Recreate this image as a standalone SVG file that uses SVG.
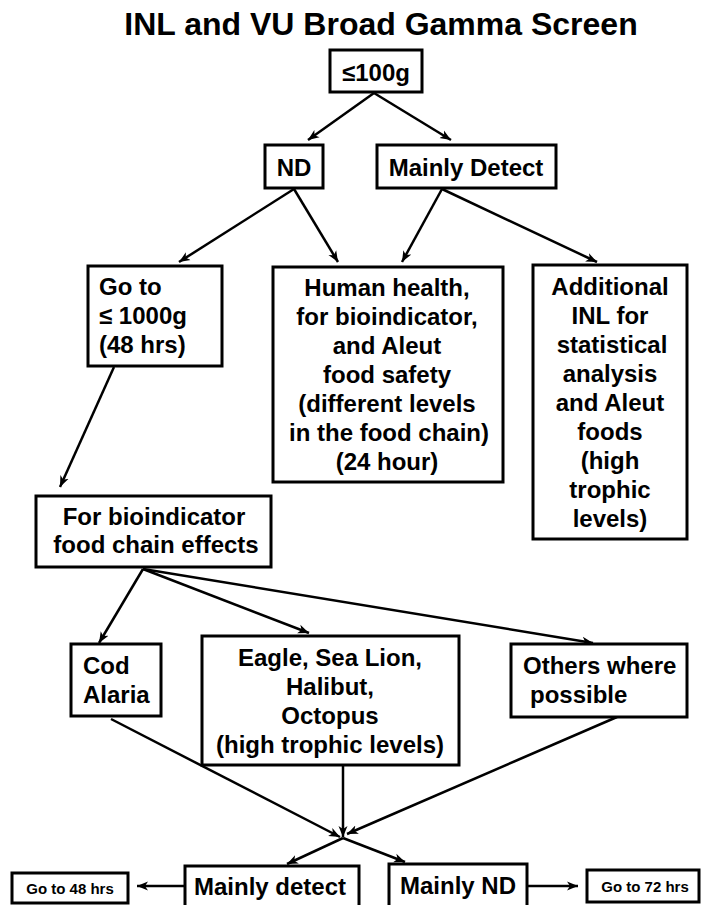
<svg xmlns="http://www.w3.org/2000/svg" width="701" height="905" viewBox="0 0 701 905">
<style>
.box{fill:#fff;stroke:#000;stroke-width:3}
text{font-family:"Liberation Sans",Arial,sans-serif;font-weight:bold;fill:#000}
.t{font-size:24px}
.c{text-anchor:middle}
.s{font-size:15px}
.ln{stroke:#000;stroke-width:2.5;fill:none;marker-end:url(#ah)}
</style>
<defs>
<marker id="ah" markerUnits="userSpaceOnUse" markerWidth="12" markerHeight="10" refX="11" refY="5" orient="auto">
<path d="M0,0.5 L11,5 L0,9.5 L3,5 z" fill="#000"/>
</marker>
</defs>
<rect width="701" height="905" fill="#fff"/>
<text x="381" y="35" class="c" font-size="32">INL and VU Broad Gamma Screen</text>

<g id="connectors">
<line class="ln" x1="374" y1="93" x2="308" y2="140"/>
<line class="ln" x1="374" y1="93" x2="451" y2="140"/>
<line class="ln" x1="294" y1="189" x2="179" y2="262"/>
<line class="ln" x1="294" y1="189" x2="338" y2="262"/>
<line class="ln" x1="442" y1="189" x2="402" y2="262"/>
<line class="ln" x1="442" y1="189" x2="597" y2="262"/>
<line class="ln" x1="114" y1="367" x2="60" y2="487"/>
<line class="ln" x1="143" y1="569" x2="99" y2="643"/>
<line class="ln" x1="143" y1="569" x2="309" y2="633"/>
<line class="ln" x1="143" y1="569" x2="593" y2="643"/>
<line class="ln" x1="111" y1="719" x2="340" y2="837"/>
<line class="ln" x1="343" y1="766" x2="343" y2="837"/>
<line class="ln" x1="617" y1="717" x2="347" y2="834"/>
<line class="ln" x1="343" y1="838" x2="287" y2="864"/>
<line class="ln" x1="343" y1="838" x2="405" y2="862"/>
<line class="ln" x1="185" y1="886" x2="137" y2="886"/>
<line class="ln" x1="527" y1="886" x2="578" y2="886"/>
</g>

<g id="n-start"><rect class="box" x="330" y="50" width="92" height="42"/><text class="t c" x="376" y="81">≤100g</text></g>
<g id="n-nd"><rect class="box" x="265" y="145" width="58" height="43"/><text class="t c" x="294" y="176">ND</text></g>
<g id="n-detect"><rect class="box" x="377" y="145" width="179" height="43"/><text class="t c" x="466" y="176">Mainly Detect</text></g>
<g id="n-goto"><rect class="box" x="88" y="266" width="134" height="100"/>
<text class="t" x="99" y="295">Go to</text><text class="t" x="99" y="324">≤ 1000g</text><text class="t" x="99" y="353">(48 hrs)</text></g>
<g id="n-human"><rect class="box" x="273" y="267" width="230" height="215"/>
<text class="t c" x="387" y="296">Human health,</text>
<text class="t c" x="387" y="325">for bioindicator,</text>
<text class="t c" x="387" y="354">and Aleut</text>
<text class="t c" x="387" y="383">food safety</text>
<text class="t c" x="387" y="412">(different levels</text>
<text class="t c" x="389" y="441">in the food chain)</text>
<text class="t c" x="387" y="470">(24 hour)</text></g>
<g id="n-additional"><rect class="box" x="533" y="265" width="154" height="274"/>
<text class="t c" x="610" y="295">Additional</text>
<text class="t c" x="610" y="324">INL for</text>
<text class="t c" x="612" y="353">statistical</text>
<text class="t c" x="610" y="382">analysis</text>
<text class="t c" x="610" y="411">and Aleut</text>
<text class="t c" x="610" y="440">foods</text>
<text class="t c" x="610" y="469">(high</text>
<text class="t c" x="610" y="498">trophic</text>
<text class="t c" x="610" y="527">levels)</text></g>
<g id="n-bio"><rect class="box" x="36" y="496" width="235" height="71"/>
<text class="t c" x="154" y="525">For bioindicator</text>
<text class="t c" x="156" y="553">food chain effects</text></g>
<g id="n-cod"><rect class="box" x="71" y="644" width="90" height="72"/>
<text class="t" x="83" y="674">Cod</text><text class="t" x="83" y="703">Alaria</text></g>
<g id="n-eagle"><rect class="box" x="202" y="636" width="257" height="129"/>
<text class="t c" x="330" y="666">Eagle, Sea Lion,</text>
<text class="t c" x="330" y="695">Halibut,</text>
<text class="t c" x="330" y="724">Octopus</text>
<text class="t c" x="330" y="753">(high trophic levels)</text></g>
<g id="n-others"><rect class="box" x="511" y="644" width="176" height="73"/>
<text class="t" x="523" y="674">Others where</text><text class="t" x="530" y="703">possible</text></g>
<g id="n-mdetect"><rect class="box" x="185" y="866" width="174" height="50"/><text class="t c" x="270" y="895">Mainly detect</text></g>
<g id="n-mnd"><rect class="box" x="389" y="864" width="138" height="50"/><text class="t c" x="458" y="894">Mainly ND</text></g>
<g id="n-go48"><rect class="box" x="12" y="873" width="116" height="30"/><text class="s c" x="70" y="894">Go to 48 hrs</text></g>
<g id="n-go72"><rect class="box" x="587" y="870" width="112" height="32"/><text class="s c" x="645" y="892">Go to 72 hrs</text></g>
</svg>
